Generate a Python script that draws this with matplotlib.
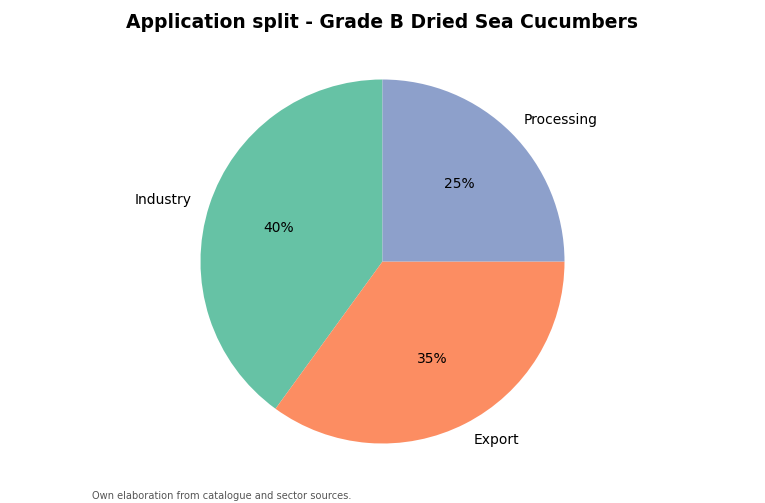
import matplotlib
matplotlib.use("Agg")
import matplotlib.pyplot as plt

labels = ["Industry", "Export", "Processing"]
shares = [40, 35, 25]
colors = ["#66c2a5", "#fc8d62", "#8da0cb"]

fig = plt.figure(figsize=(7.65, 5.03), dpi=100)
# pie centre at about (382.5, 261.5) px, radius ~182 px
ax = fig.add_axes([(382.5 - 227.5) / 765, (503 - 261.5 - 227.5) / 503, 455 / 765, 455 / 503])

ax.pie(shares, labels=labels, colors=colors, autopct="%1.0f%%",
       startangle=90, labeldistance=1.1, pctdistance=0.6,
       textprops={"fontsize": 10})
ax.set_aspect("equal")

fig.text(0.5, 1 - 22 / 503, "Application split - Grade B Dried Sea Cucumbers",
         ha="center", va="center", fontsize=13.5, fontweight="bold")
fig.text(92 / 765, 1 - 496 / 503, "Own elaboration from catalogue and sector sources.",
         ha="left", va="center", fontsize=7.15, color="#555555")

fig.savefig("out.png", dpi=100)
